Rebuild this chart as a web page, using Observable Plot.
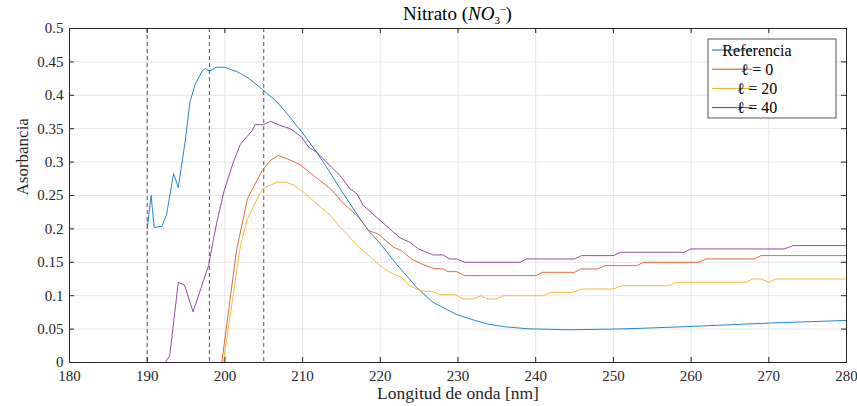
<!DOCTYPE html>
<html>
<head>
<meta charset="utf-8">
<script src="https://cdn.jsdelivr.net/npm/d3@7"></script>
<script src="https://cdn.jsdelivr.net/npm/@observablehq/plot@0.6"></script>
<style>
  html, body { margin: 0; padding: 0; background: #fff; }
  svg { display: block; }
</style>
</head>
<body>
<div id="chart"></div>
<script>
// ---- Data ----
const refLambda = [190.0,190.5,190.9,191.9,192.5,193.4,194.0,194.9,195.5,196.2,197.1,197.5,198.0,198.9,200.0,201.6,203.0,204.7,206.7,208.4,209.9,211.8,213.5,215.0,217.0,218.5,220.0,222.1,224.7,226.8,229.8,231.6,233.8,236.0,239.0,244.2,249.8,253.2,260.0,267.0,270.0,275.0,280.0];
const refValues = [0.200,0.250,0.202,0.204,0.222,0.283,0.262,0.332,0.390,0.417,0.437,0.440,0.436,0.442,0.442,0.435,0.426,0.410,0.390,0.367,0.345,0.315,0.285,0.257,0.222,0.197,0.178,0.147,0.112,0.090,0.072,0.065,0.0575,0.0535,0.0505,0.049,0.050,0.051,0.054,0.0575,0.059,0.061,0.063];

const l0Lambda = [199.6,201.5,202.9,204.8,205.9,206.9,208.4,209.7,211.4,213.6,215.1,217.2,218.5,219.7,221.7,222.7,224.0,225.4,226.8,228.1,228.7,229.8,230.9,240.0,240.9,245.0,245.8,248.0,248.9,253.0,253.9,261.0,261.9,268.1,269.0,280.0];
const l0Values = [0.000,0.168,0.245,0.2875,0.303,0.310,0.303,0.296,0.280,0.260,0.240,0.2175,0.1975,0.1925,0.1725,0.1675,0.155,0.147,0.141,0.140,0.136,0.136,0.130,0.130,0.135,0.135,0.140,0.140,0.145,0.145,0.150,0.150,0.155,0.155,0.160,0.160];

const l20Lambda = [199.8,202.0,202.9,204.8,206.7,207.8,208.8,210.1,213.6,214.8,215.9,217.0,220.0,221.2,222.7,223.8,225.1,226.8,227.7,229.6,230.7,232.0,232.9,233.9,234.9,235.9,241.0,242.0,244.8,245.9,250.0,251.1,257.1,258.0,267.0,267.9,269.0,270.0,270.9,280.0];
const l20Values = [0.000,0.175,0.215,0.260,0.270,0.270,0.266,0.255,0.220,0.2025,0.190,0.175,0.145,0.135,0.1275,0.115,0.1075,0.106,0.1015,0.1015,0.095,0.095,0.100,0.095,0.095,0.100,0.100,0.105,0.105,0.110,0.110,0.115,0.115,0.120,0.120,0.125,0.125,0.120,0.125,0.125];

const l40Lambda = [192.3,192.9,194.0,194.8,195.9,197.9,198.5,199.0,199.9,201.0,202.0,203.5,203.9,204.9,205.9,207.1,208.4,208.8,209.9,210.8,211.8,213.5,214.8,216.1,217.0,217.8,220.0,222.5,223.8,224.9,226.8,228.1,228.9,229.8,230.9,238.0,238.8,245.0,245.9,250.0,250.9,259.1,260.0,272.0,273.1,280.0];
const l40Values = [0.000,0.010,0.120,0.116,0.076,0.145,0.183,0.212,0.257,0.297,0.327,0.347,0.356,0.356,0.361,0.355,0.350,0.347,0.337,0.322,0.315,0.295,0.280,0.260,0.2525,0.235,0.2125,0.187,0.180,0.170,0.161,0.161,0.155,0.155,0.150,0.150,0.155,0.155,0.160,0.160,0.165,0.165,0.170,0.170,0.175,0.175];

const seriesNames = ["Referencia", "ℓ = 0", "ℓ = 20", "ℓ = 40"];
const seriesColors = ["#0072BD", "#D95319", "#EDB120", "#7E2F8E"];
const xTicks = [180,190,200,210,220,230,240,250,260,270,280];
const yTicks = [0,0.05,0.1,0.15,0.2,0.25,0.3,0.35,0.4,0.45,0.5];
const yTickLabels = ["0","0.05","0.1","0.15","0.2","0.25","0.3","0.35","0.4","0.45","0.5"];
const markerLines = [190, 198, 205];

const titleMain = "Nitrato (";
const xLabel = "Longitud de onda [nm]";
const yLabel = "Asorbancia";

// ---- Build table ----
const toRows = (lam, val, name) => lam.map((l, i) => ({lambda: l, value: val[i], series: name}));
const series = [
  toRows(refLambda, refValues, seriesNames[0]),
  toRows(l0Lambda, l0Values, seriesNames[1]),
  toRows(l20Lambda, l20Values, seriesNames[2]),
  toRows(l40Lambda, l40Values, seriesNames[3])
];

const W = 857, H = 406;
const mL = 69, mR = 11, mT = 28, mB = 44;
const plotW = W - mL - mR, plotH = H - mT - mB;
const axisColor = "#262626";
const font = "Liberation Serif";

const svg = Plot.plot({
  width: W,
  height: H,
  marginLeft: mL, marginRight: mR, marginTop: mT, marginBottom: mB,
  style: {fontFamily: font, fontSize: "15px", color: axisColor, background: "#fff"},
  x: {domain: [180, 280], label: null},
  y: {domain: [0, 0.5], label: null},
  marks: [
    Plot.ruleX(xTicks, {stroke: "#e6e6e6", strokeWidth: 1}),
    Plot.ruleY(yTicks, {stroke: "#e6e6e6", strokeWidth: 1}),
    Plot.ruleX(markerLines, {stroke: "#555", strokeWidth: 1, strokeDasharray: "4,3"}),
    ...series.map((rows, i) => Plot.line(rows, {x: "lambda", y: "value", stroke: seriesColors[i], strokeWidth: 1, strokeOpacity: 0.85})),
    Plot.frame({stroke: axisColor, strokeWidth: 1}),
    Plot.tickX(xTicks, {x: d => d, insetTop: plotH - 5, stroke: axisColor}),
    Plot.tickX(xTicks, {x: d => d, insetBottom: plotH - 5, stroke: axisColor}),
    Plot.tickY(yTicks, {y: d => d, insetRight: plotW - 5, stroke: axisColor}),
    Plot.tickY(yTicks, {y: d => d, insetLeft: plotW - 5, stroke: axisColor}),
    Plot.axisX(xTicks, {tickSize: 0, tickPadding: 8, fontSize: 15, label: null, fill: axisColor}),
    Plot.axisY(yTicks, {tickSize: 0, tickPadding: 6, fontSize: 15, label: null, fill: axisColor,
      tickFormat: d => yTickLabels[yTicks.indexOf(d)]}),
    Plot.text([xLabel], {frameAnchor: "bottom", dy: 36, fontSize: 17.5, fill: axisColor, text: d => d}),
    Plot.text([yLabel], {frameAnchor: "left", dx: -47, rotate: -90, fontSize: 17, fill: axisColor, text: d => d})
  ]
});

const root = d3.select(svg);

// Title with sub/superscript
const t = root.append("text")
  .attr("x", mL + plotW / 2)
  .attr("y", 20)
  .attr("text-anchor", "middle")
  .attr("font-size", 19)
  .attr("fill", "#000");
t.append("tspan").text(titleMain);
t.append("tspan").attr("font-style", "italic").text("NO");
t.append("tspan").attr("font-size", 11).attr("dy", 4).text("3");
t.append("tspan").attr("font-size", 11).attr("dx", -0.5).attr("dy", -11).text("−");
t.append("tspan").attr("dy", 7).text(")");

// Legend
const lg = root.append("g");
const lx = 708, ly = 39, lw = 128, lh = 79;
lg.append("rect").attr("x", lx).attr("y", ly).attr("width", lw).attr("height", lh)
  .attr("fill", "#fff").attr("stroke", "#555").attr("stroke-width", 1);
seriesNames.forEach((name, i) => {
  const yy = ly + 11 + i * 19.2;
  lg.append("line").attr("x1", lx + 4).attr("x2", lx + 44).attr("y1", yy).attr("y2", yy)
    .attr("stroke", seriesColors[i]).attr("stroke-width", 1);
  lg.append("text").attr("x", lx + 49).attr("y", yy).attr("dy", "0.35em")
    .attr("font-size", 16).attr("fill", "#000").text(name);
});

// force the serif family on every text element
root.selectAll("text, tspan, g").attr("font-family", font).style("font-family", font);

document.getElementById("chart").appendChild(svg);
</script>
</body>
</html>
